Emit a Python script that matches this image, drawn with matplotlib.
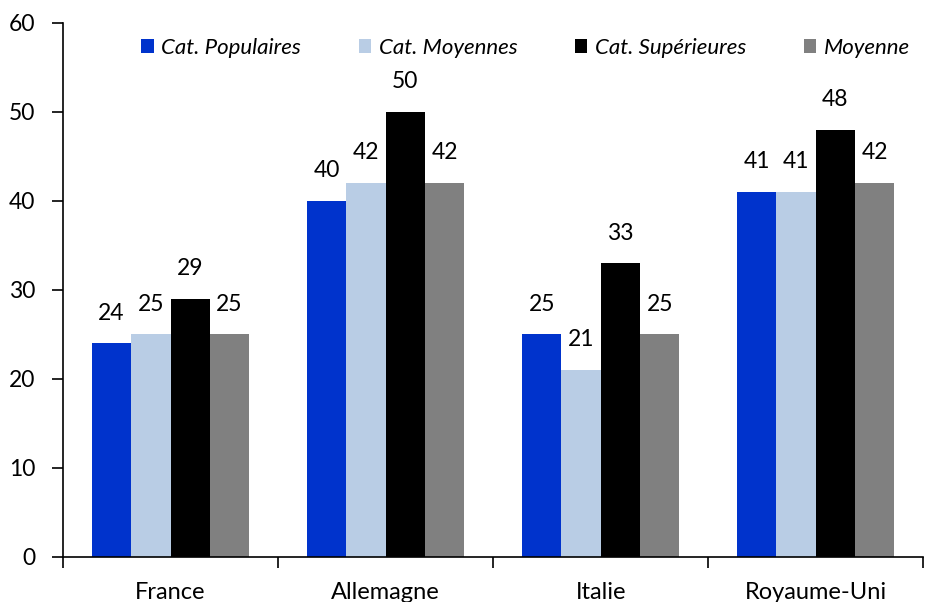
import numpy as np
import matplotlib
matplotlib.use("Agg")
import matplotlib.pyplot as plt

plt.rcParams["font.family"] = ["Lato", "DejaVu Sans"]

countries = ["France", "Allemagne", "Italie", "Royaume-Uni"]
series_names = ["Cat. Populaires", "Cat. Moyennes", "Cat. Supérieures", "Moyenne"]
populaires = [24, 40, 25, 41]
moyennes = [25, 42, 21, 41]
superieures = [29, 50, 33, 48]
moyenne = [25, 42, 25, 42]
colors = ["#0033CC", "#B9CDE5", "#000000", "#808080"]

fig = plt.figure(figsize=(9.27, 6.02), dpi=100)
ax = fig.add_axes([0.068, 0.075, 0.928, 0.887])

x = np.arange(len(countries))
width = 0.183
series = [populaires, moyennes, superieures, moyenne]
for i, (vals, name, c) in enumerate(zip(series, series_names, colors)):
    pos = x + (i - 1.5) * width
    bars = ax.bar(pos, vals, width, color=c, label=name)
    for b, v in zip(bars, vals):
        ax.text(b.get_x() + b.get_width() / 2, v + 2.2, str(v),
                ha="center", va="bottom", fontsize=16.5)

ax.set_xlim(-0.5, len(countries) - 0.5)
ax.set_ylim(0, 60)
ax.set_yticks(range(0, 61, 10))
ax.tick_params(axis="y", labelsize=16.5, direction="out", length=8, width=1.2, pad=12)

ax.set_xticks(x)
ax.set_xticklabels(countries, fontsize=17)
ax.set_xticks(np.arange(-0.5, len(countries)), minor=True)
ax.tick_params(axis="x", which="major", length=0, pad=18)
ax.tick_params(axis="x", which="minor", length=8, width=1.2, direction="out")

for s in ["top", "right"]:
    ax.spines[s].set_visible(False)
for s in ["left", "bottom"]:
    ax.spines[s].set_linewidth(1.2)

leg = ax.legend(loc="center", bbox_to_anchor=(0.538, 0.953), ncol=4,
                frameon=False, handlelength=0.55, handleheight=0.55,
                handletextpad=0.35, columnspacing=2.6,
                prop={"style": "italic", "size": 16})

fig.savefig("out.png", dpi=100)
